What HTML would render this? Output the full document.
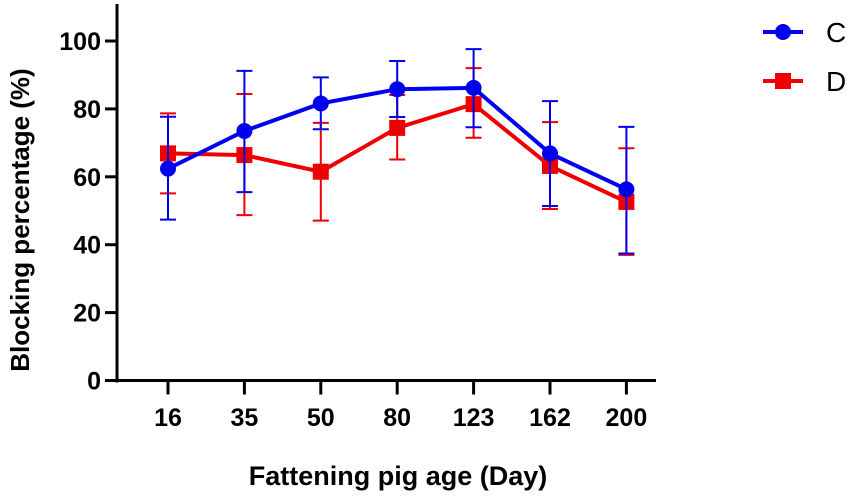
<!DOCTYPE html>
<html><head><meta charset="utf-8"><style>
body{margin:0;background:#fff;}
svg{display:block;font-family:"Liberation Sans",Arial,sans-serif;}
</style></head><body>
<svg id="chart" width="851" height="497">
<g id="axes"></g>
<g id="series"></g>
<text x="22" y="220" transform="rotate(-90 22 220)" text-anchor="middle" dominant-baseline="middle" font-size="26" font-weight="bold">Blocking percentage (%)</text>
<text x="398" y="485" text-anchor="middle" font-size="27" font-weight="bold">Fattening pig age (Day)</text>
<g>
<g>
<line x1="763" y1="32" x2="803" y2="32" stroke="#0000ee" stroke-width="4"/>
<circle cx="783" cy="32" r="8" fill="#0000ee"/>
<text x="826" y="42" font-size="28">C</text></g>
<g>
<line x1="763" y1="81" x2="803" y2="81" stroke="#ee0000" stroke-width="4"/>
<rect x="775" y="73" width="16" height="16" fill="#ee0000"/>
<text x="826" y="91" font-size="28">D</text></g>
</g>
</svg>
<script>
const categories=["16","35","50","80","123","162","200"];
const yTicks=[0,20,40,60,80,100];
const cMean=[62.4,73.5,81.6,85.8,86.2,66.9,56.3];
const cHigh=[77.7,91.2,89.3,94.1,97.6,82.3,74.7];
const cLow=[47.4,55.5,74.0,77.6,74.6,51.4,37.4];
const dMean=[66.9,66.4,61.5,74.4,81.4,63.2,52.6];
const dHigh=[78.7,84.4,75.9,84.1,92.0,76.1,68.4];
const dLow=[55.1,48.7,47.1,65.1,71.5,50.5,37.0];
const NS="http://www.w3.org/2000/svg";
const x0=117,xStep=76.4,xFirst=168,yBase=380.5,yScale=3.395;
const xs=i=>xFirst+i*xStep;
const ys=v=>yBase-v*yScale;
function mk(tag,attrs,parent){const e=document.createElementNS(NS,tag);for(const k in attrs)e.setAttribute(k,attrs[k]);parent.appendChild(e);return e;}
const ax=document.getElementById('axes');
let l=mk('line',{x1:x0,y1:4,x2:x0,y2:yBase+2,stroke:'#000','stroke-width':3},ax);


l=mk('line',{x1:x0-2,y1:yBase,x2:656,y2:yBase,stroke:'#000','stroke-width':3},ax);


yTicks.forEach(v=>{
 const t=mk('line',{x1:x0-12,y1:ys(v),x2:x0,y2:ys(v),stroke:'#000','stroke-width':3},ax);
 
 
 const tx=mk('text',{x:x0-16,y:ys(v)+9,'text-anchor':'end','font-size':25,'font-weight':'bold'},ax);
 tx.textContent=v;
 
 
});
categories.forEach((c,i)=>{
 const t=mk('line',{x1:xs(i),y1:yBase,x2:xs(i),y2:yBase+14,stroke:'#000','stroke-width':3},ax);
 
 
 const tx=mk('text',{x:xs(i),y:426,'text-anchor':'middle','font-size':25,'font-weight':'bold'},ax);
 tx.textContent=c;
 
 
});
const sg=document.getElementById('series');
function drawSeries(name,mean,hi,lo,color,square){
 const g=mk('g',{},sg);
 
 
 mean.forEach((v,i)=>{
  const e=mk('path',{d:`M${xs(i)},${ys(hi[i])}V${ys(lo[i])}M${xs(i)-8},${ys(hi[i])}h16M${xs(i)-8},${ys(lo[i])}h16`,stroke:color,'stroke-width':2,fill:'none'},g);
  
  
 });
 const p=mk('polyline',{points:mean.map((v,i)=>xs(i)+','+ys(v)).join(' '),stroke:color,'stroke-width':4,fill:'none'},g);
 
 
 mean.forEach((v,i)=>{
  let m;
  if(square) m=mk('rect',{x:xs(i)-8,y:ys(v)-8,width:16,height:16,fill:color},g);
  else m=mk('circle',{cx:xs(i),cy:ys(v),r:8,fill:color},g);
  
  
 });
}
drawSeries('d',dMean,dHigh,dLow,'#ee0000',true);
drawSeries('c',cMean,cHigh,cLow,'#0000ee',false);
</script>
</body></html>
